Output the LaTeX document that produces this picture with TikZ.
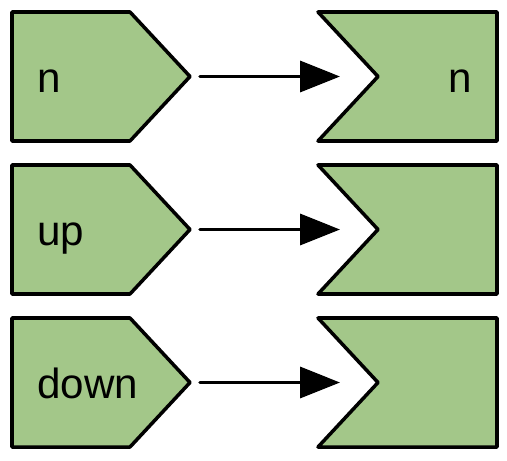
\documentclass[tikz,border=0pt]{standalone}
\usepackage{fontspec}
\setmainfont{Liberation Sans}
\usetikzlibrary{arrows.meta}
\definecolor{leaf}{RGB}{163,199,137}
\tikzset{%
    box/.style={line width=2pt, fill=leaf, line join=round},
    lab/.style={inner sep=0pt, font=\fontsize{24}{28}\selectfont},
    conn/.style={line width=2pt, line cap=round, -{Triangle[length=0.8cm, width=0.62cm]}},
}
\begin{document}
\begin{tikzpicture}[x=0.02cm, y=-0.02cm]
    \useasboundingbox (0,0) rectangle (507,460);
    \foreach \row/\top/\txt in {1/12/n, 2/165/up, 3/318/down}{
        \draw [box] (12,\top) -- (130,\top) -- (190,\top+64.5) -- (130,\top+129) -- (12,\top+129) -- cycle;
        \draw [box] (318,\top) -- (497,\top) -- (497,\top+129) -- (318,\top+129) -- (378,\top+64.5) -- cycle;
        \node [lab, anchor=base west] (lab\row) at (37,\top+80.5) {\txt};
        \coordinate (out\row) at (200,\top+64.5);
        \coordinate (in\row) at (340,\top+64.5);
        \draw [conn] (out\row) -- (in\row);
    }
    \node [lab, anchor=base east] (res1) at (472,92.5) {n};
\end{tikzpicture}
\end{document}
